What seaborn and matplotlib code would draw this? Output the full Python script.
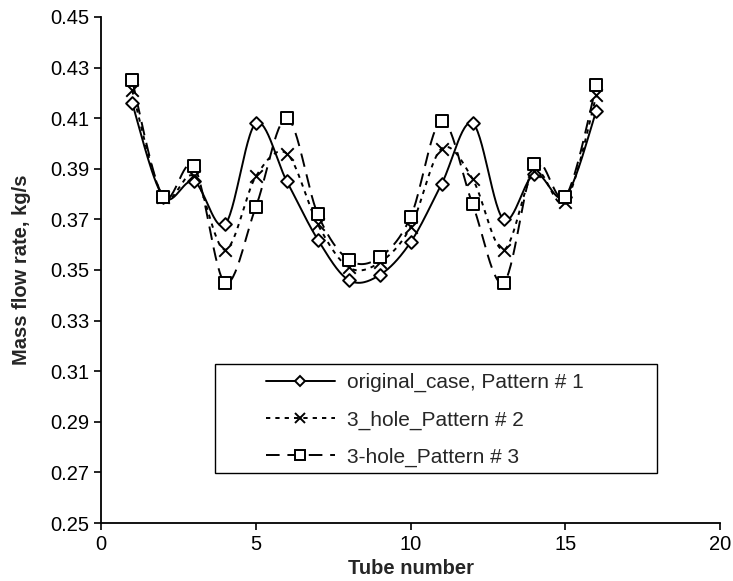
import numpy as np
import pandas as pd
import matplotlib
matplotlib.use("Agg")
import matplotlib.pyplot as plt
import seaborn as sns
from matplotlib.lines import Line2D
from matplotlib.patches import Rectangle

# Dados
tubos = list(range(1, 17))
original_case = [0.416, 0.379, 0.385, 0.368, 0.408, 0.385, 0.362, 0.346,
                 0.348, 0.361, 0.384, 0.408, 0.370, 0.388, 0.379, 0.413]
hole3_p2 = [0.421, 0.379, 0.387, 0.358, 0.387, 0.396, 0.368, 0.351,
            0.353, 0.367, 0.398, 0.386, 0.358, 0.389, 0.377, 0.419]
hole3_p3 = [0.425, 0.379, 0.391, 0.345, 0.375, 0.410, 0.372, 0.354,
            0.355, 0.371, 0.409, 0.376, 0.345, 0.392, 0.379, 0.423]
rotulos = ["original_case, Pattern # 1", "3_hole_Pattern # 2", "3-hole_Pattern # 3"]
y_ticks = [0.25, 0.27, 0.29, 0.31, 0.33, 0.35, 0.37, 0.39, 0.41, 0.43, 0.45]
x_ticks = [0, 5, 10, 15, 20]


def suavizar(x, y, n=30):
    # curva suave tipo Excel (Bezier a partir dos pontos)
    p = np.column_stack([x, y]).astype(float)
    pts = []
    for i in range(len(p) - 1):
        p0 = p[max(i - 1, 0)]
        p1 = p[i]
        p2 = p[i + 1]
        p3 = p[min(i + 2, len(p) - 1)]
        c1 = p1 + (p2 - p0) / 6
        c2 = p2 - (p3 - p1) / 6
        t = np.linspace(0, 1, n, endpoint=(i == len(p) - 2))[:, None]
        seg = ((1 - t) ** 3) * p1 + 3 * ((1 - t) ** 2) * t * c1 + 3 * (1 - t) * t ** 2 * c2 + t ** 3 * p2
        pts.append(seg)
    pts = np.vstack(pts)
    return pts[:, 0], pts[:, 1]


sns.set_style("ticks")
plt.rcParams['font.family'] = ['Liberation Sans', 'DejaVu Sans']

fig = plt.figure(figsize=(7.33, 5.81), dpi=100)
ax = fig.add_axes([0.138, 0.0998, 0.8445, 0.871])

series = [original_case, hole3_p2, hole3_p3]
estilos = [(None, 'D', 6.5), ((2.2, 2.6), 'x', 9), ((7, 4), 's', 8.8)]

handles = []
for vals, (dash, mk, ms), lab in zip(series, estilos, rotulos):
    xs, ys = suavizar(tubos, vals)
    df_c = pd.DataFrame({'x': xs, 'y': ys})
    line_kw = dict(color='black', lw=1.4, sort=False, estimator=None, ax=ax)
    if dash is not None:
        line_kw['dashes'] = dash
    sns.lineplot(data=df_c, x='x', y='y', **line_kw)
    df_p = pd.DataFrame({'x': tubos, 'y': vals})
    if mk == 'x':
        sns.scatterplot(data=df_p, x='x', y='y', marker='x', s=ms ** 2,
                        color='black', linewidth=1.4, ax=ax, zorder=3)
    else:
        sns.scatterplot(data=df_p, x='x', y='y', marker=mk, s=ms ** 2,
                        facecolor='white', edgecolor='black', linewidth=1.4,
                        ax=ax, zorder=3)
    h = Line2D([], [], color='black', lw=1.4, marker=mk, markersize=ms * 0.85,
               markerfacecolor='white', markeredgecolor='black', markeredgewidth=1.4,
               label=lab)
    if dash is not None:
        h.set_dashes(dash)
    handles.append(h)

ax.set_xlim(0, 20)
ax.set_ylim(0.25, 0.45)
ax.set_xticks(x_ticks)
ax.set_yticks(y_ticks)
ax.set_yticklabels([f"{v:.2f}" for v in y_ticks])
ax.tick_params(direction='out', length=5, width=1.2, labelsize=14.5, colors='black')
for s in ['left', 'bottom']:
    ax.spines[s].set_linewidth(1.3)
    ax.spines[s].set_color('black')
sns.despine(ax=ax)

ax.set_xlabel("Tube number", fontsize=14.5, fontweight='bold', labelpad=4)
ax.set_ylabel("Mass flow rate, kg/s", fontsize=14.5, fontweight='bold', labelpad=14)

# Caixa da legenda
ax.add_patch(Rectangle((0.184, 0.098), 0.714, 0.216, transform=ax.transAxes,
                       facecolor='white', edgecolor='black', lw=1.0, zorder=4))
leg = ax.legend(handles=handles, loc='upper left', bbox_to_anchor=(0.266, 0.296),
                frameon=False, fontsize=15, handlelength=3.3, handletextpad=0.6,
                labelspacing=0.86, borderpad=0, borderaxespad=0)
leg.set_zorder(5)

plt.savefig("out.png", dpi=100)
